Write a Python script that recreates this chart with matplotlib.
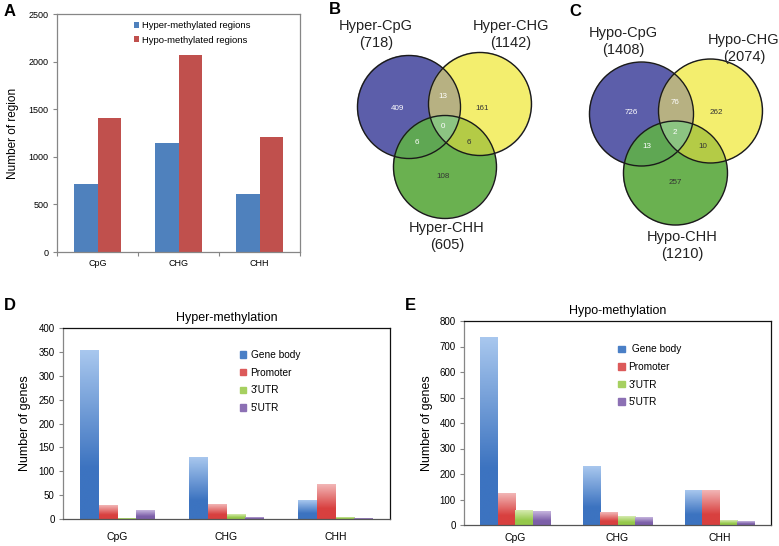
import numpy as np
import matplotlib.pyplot as plt
from matplotlib.patches import Circle, Patch
from matplotlib.colors import to_rgb

plt.rcParams['font.family'] = ['Liberation Sans', 'DejaVu Sans']

# panel A
contexts = ['CpG', 'CHG', 'CHH']
hyper_regions = [718, 1142, 605]
hypo_regions = [1408, 2074, 1210]
region_labels = ['Hyper-methylated regions', 'Hypo-methylated regions']

# panels B and C: only-1, only-2, only-3, 1&2, 1&3, 2&3, 1&2&3
hyper_sets = ['Hyper-CpG', 'Hyper-CHG', 'Hyper-CHH']
hyper_totals = [718, 1142, 605]
hyper_venn = [409, 161, 108, 13, 6, 6, 0]
hypo_sets = ['Hypo-CpG', 'Hypo-CHG', 'Hypo-CHH']
hypo_totals = [1408, 2074, 1210]
hypo_venn = [726, 262, 257, 76, 13, 10, 2]

# panels D and E
features = ['Gene body', 'Promoter', "3'UTR", "5'UTR"]
hyper_genes = [[353, 129, 38], [28, 31, 73], [1, 10, 3], [17, 4, 2]]
hypo_genes = [[737, 231, 137], [123, 50, 135], [58, 33, 19], [54, 29, 14]]

fig = plt.figure(figsize=(7.79, 5.46), dpi=100)

# background axes in pixel coords for the venns and panel letters
bg = fig.add_axes([0, 0, 1, 1])
bg.set_xlim(0, 779)
bg.set_ylim(546, 0)
bg.axis('off')

region_cols = {1: '#5C5EAA', 2: '#F3EE6E', 3: '#B7B282', 4: '#6AB250',
               5: '#60A854', 6: '#B4CC46', 7: '#8CC482'}


def draw_venn(ax, centers, r, counts, names, totals, num_pos, num_dark, name_pos):
    cx = np.array([c[0] for c in centers])
    cy = np.array([c[1] for c in centers])
    x0, x1 = cx.min() - r - 2, cx.max() + r + 2
    y0, y1 = cy.min() - r - 2, cy.max() + r + 2
    xs = np.arange(x0, x1, 0.25)
    ys = np.arange(y0, y1, 0.25)
    X, Y = np.meshgrid(xs, ys)
    code = np.zeros(X.shape, dtype=int)
    for i in range(3):
        inside = (X - cx[i]) ** 2 + (Y - cy[i]) ** 2 <= r ** 2
        code += inside * (1 << i)
    img = np.zeros(X.shape + (4,))
    for k, col in region_cols.items():
        img[code == k] = list(to_rgb(col)) + [1.0]
    ax.imshow(img, extent=(x0, x1, y1, y0), origin='upper', aspect='auto',
              interpolation='bilinear', zorder=1)
    for i in range(3):
        ax.add_patch(Circle((cx[i], cy[i]), r, fill=False, lw=1.0, ec='#1a1a1a', zorder=2))
    for n, (px, py), dark in zip(counts, num_pos, num_dark):
        ax.text(px, py, str(n), fontsize=5.8, ha='center', va='center',
                color='#333333' if dark else 'white', zorder=3)
    for name, tot, (px, py) in zip(names, totals, name_pos):
        ax.text(px, py, name, fontsize=10.5, ha='center', va='center', color='#222222')
        ax.text(px, py + 17, '(%d)' % tot, fontsize=10.5, ha='center', va='center', color='#222222')


draw_venn(bg, [(409, 107), (480, 104), (445, 167)], 51.5, hyper_venn, hyper_sets, hyper_totals,
          [(398, 108), (482, 108), (443, 176), (443, 97), (417, 142), (469, 142), (443, 127)],
          [False, True, True, False, False, True, False],
          [(376, 26), (511, 26), (447, 228)])
draw_venn(bg, [(641.5, 114), (710.5, 111), (675.5, 173)], 52, hypo_venn, hypo_sets, hypo_totals,
          [(631, 113), (716, 113), (675, 182), (675, 102), (647, 147), (703, 147), (675, 132)],
          [False, True, True, False, False, True, False],
          [(623, 33), (744, 40), (682, 237)])
bg.set_xlim(0, 779)
bg.set_ylim(546, 0)

for letter, (px, py) in zip('ABCDE', [(4, 11), (329, 10), (569, 11), (4, 305), (405, 305)]):
    bg.text(px, py, letter, fontsize=12, fontweight='bold', ha='left', va='center')

# ---- panel A ----
axA = fig.add_axes([57 / 779, 1 - 252 / 546, 243 / 779, 238 / 546])
x = np.arange(len(contexts))
w = 0.285
axA.bar(x - w / 2, hyper_regions, w, color='#4F81BD', label=region_labels[0], zorder=2)
axA.bar(x + w / 2, hypo_regions, w, color='#C0504D', label=region_labels[1], zorder=2)
axA.set_xlim(-0.5, 2.5)
axA.set_ylim(0, 2500)
axA.set_yticks(np.arange(0, 2501, 500))
axA.set_xticks(np.arange(-0.5, 2.6, 1))
axA.set_xticklabels([])
axA.set_xticks(x, minor=True)
axA.set_xticklabels(contexts, minor=True)
axA.tick_params(axis='x', which='minor', length=0, pad=5, labelsize=6.5)
axA.tick_params(axis='x', which='major', length=3, color='#868686')
axA.tick_params(axis='y', length=3, color='#868686', labelsize=6.5, pad=3)
for s in axA.spines.values():
    s.set_color('#868686')
    s.set_linewidth(0.9)
axA.set_ylabel('Number of region', fontsize=8.5)
axA.yaxis.set_label_coords(-0.155, 0.5)
axA.legend(loc='upper left', bbox_to_anchor=(0.30, 0.985), frameon=False, fontsize=6.8,
           handlelength=0.55, handleheight=0.55, handletextpad=0.3, labelspacing=0.55,
           borderaxespad=0)

# ---- panels D and E ----
grad_light = ['#A8C7EE', '#F2B6B6', '#D6EBB0', '#C6B5DE']
grad_dark = ['#3C73C0', '#D8403F', '#95C84A', '#7C5FA8']
legend_cols = ['#4A7FC6', '#DC5A5A', '#A6D060', '#8C70B4']


def gradient_bar(ax, rect, light, dark):
    bx = rect.get_x()
    bw = rect.get_width()
    bh = rect.get_height()
    t = np.linspace(0, 1, 80)
    f = np.clip(t / 0.7, 0, 1)[:, None]
    cols = (1 - f) * np.array(to_rgb(light)) + f * np.array(to_rgb(dark))
    ax.imshow(cols[:, None, :], extent=(bx, bx + bw, 0, bh), origin='upper',
              aspect='auto', interpolation='bilinear', zorder=2)
    rect.set_visible(False)


def gene_panel(rect, data, ymax, step, title, label_x, tick_pad, leg_anchor, leg_labels):
    ax = fig.add_axes(rect)
    bw = 0.17
    for i, (feat, vals) in enumerate(zip(features, data)):
        bars = ax.bar(x + (i - 1.5) * bw, vals, bw, color=grad_dark[i])
        for b in bars:
            gradient_bar(ax, b, grad_light[i], grad_dark[i])
    ax.set_xlim(-0.5, 2.5)
    ax.set_ylim(0, ymax)
    ax.set_yticks(np.arange(0, ymax + 1, step))
    ax.set_xticks(x)
    ax.set_xticklabels(contexts)
    ax.tick_params(axis='x', length=0, pad=tick_pad, labelsize=7.5)
    ax.tick_params(axis='y', length=3, color='#868686', labelsize=7, pad=3)
    ax.spines['left'].set_color('#868686')
    ax.spines['bottom'].set_color('#555555')
    ax.spines['top'].set_color('#111111')
    ax.spines['right'].set_color('#111111')
    for s in ax.spines.values():
        s.set_linewidth(0.9)
    ax.set_title(title, fontsize=9, pad=5)
    ax.set_ylabel('Number of genes', fontsize=9)
    ax.yaxis.set_label_coords(label_x, 0.5)
    handles = [Patch(color=c, label=f) for c, f in zip(legend_cols, leg_labels)]
    ax.legend(handles=handles, loc='upper left', bbox_to_anchor=leg_anchor, frameon=False,
              fontsize=7.3, handlelength=0.6, handleheight=0.6, handletextpad=0.4,
              labelspacing=0.75, borderaxespad=0)
    return ax


gene_panel([63 / 779, 1 - 519 / 546, 327 / 779, 191 / 546], hyper_genes, 400, 50,
           'Hyper-methylation', -0.098, 9, (0.53, 0.905), features)
gene_panel([464 / 779, 1 - 525 / 546, 307 / 779, 204 / 546], hypo_genes, 800, 100,
           'Hypo-methylation', -0.101, 6, (0.49, 0.905), [' ' + features[0]] + features[1:])

fig.savefig('out.png', dpi=100)
